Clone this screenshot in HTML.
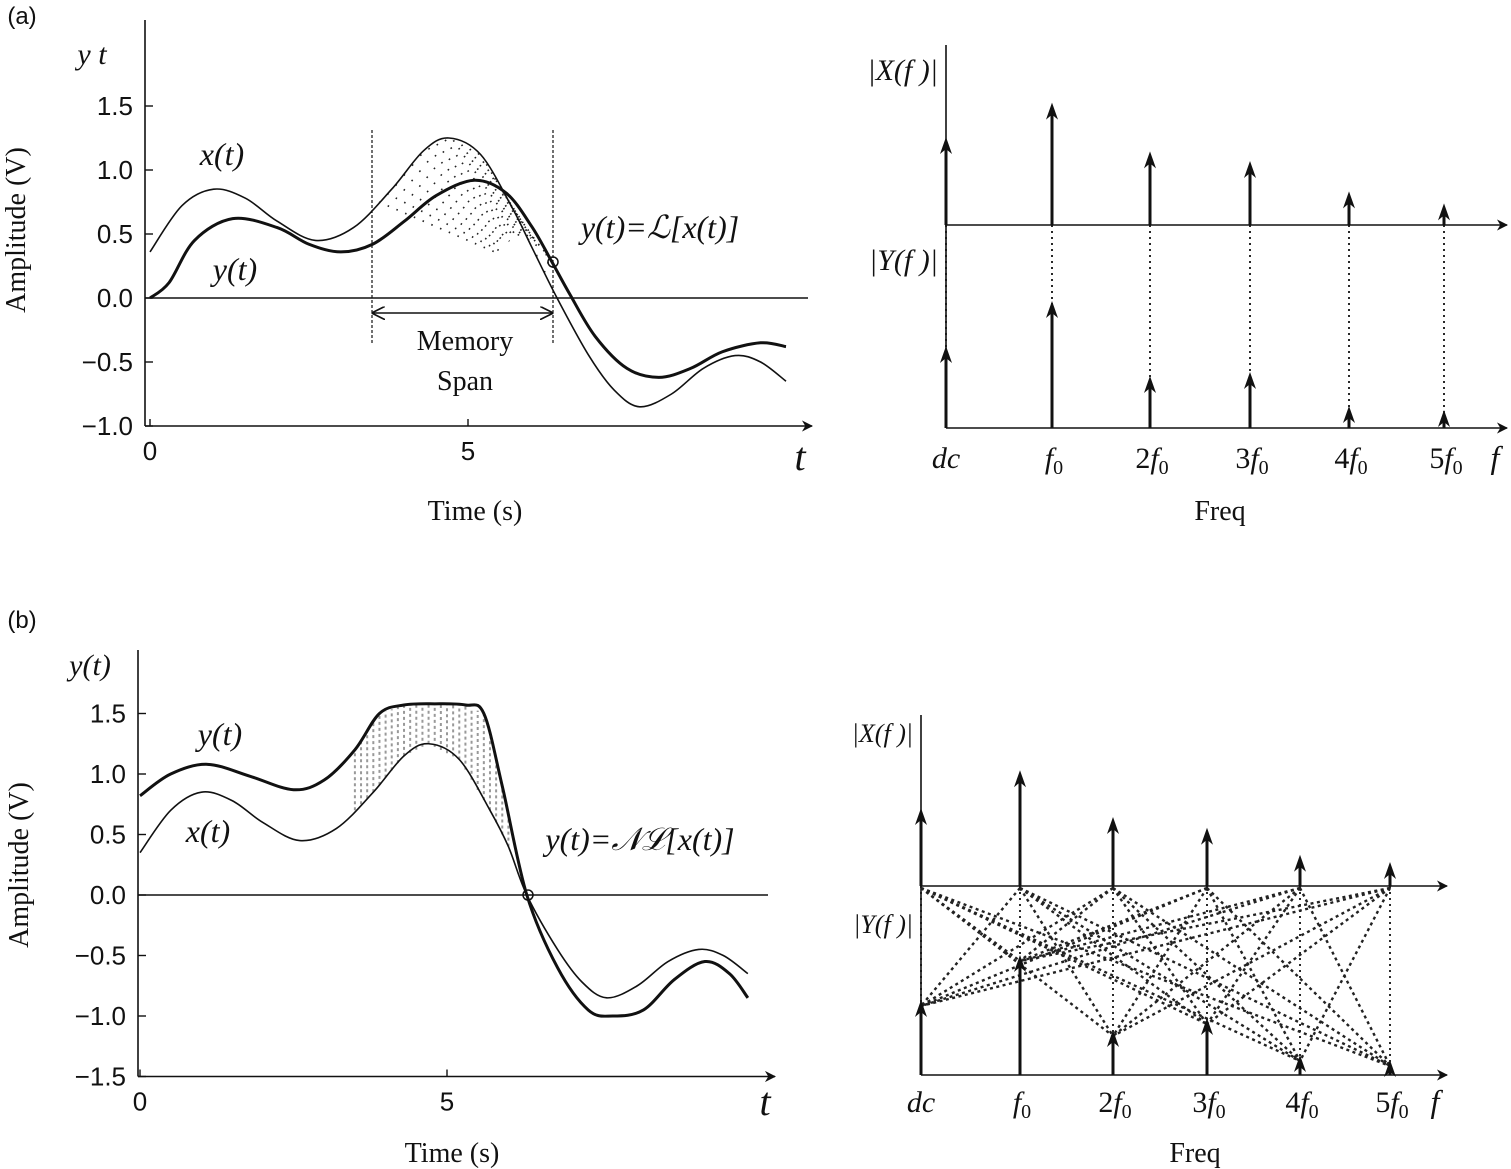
<!DOCTYPE html>
<html><head><meta charset="utf-8"><style>
html,body{margin:0;padding:0;background:#fff;}
svg{display:block;}
.sans{font-family:"Liberation Sans",sans-serif;}
.ser{font-family:"Liberation Serif",serif;}
</style></head><body>
<svg id="fig" width="1511" height="1169" viewBox="0 0 1511 1169" xmlns="http://www.w3.org/2000/svg">
<defs>
<marker id="ah" viewBox="0 0 10 10" refX="9" refY="5" markerWidth="7" markerHeight="7" orient="auto"><path d="M0,0 L10,5 L0,10 L3,5 Z" fill="#111"/></marker>
<marker id="ah2" viewBox="0 0 10 10" refX="9" refY="5" markerWidth="9" markerHeight="9" orient="auto-start-reverse"><path d="M0,0 L10,5 L0,10" fill="none" stroke="#111" stroke-width="1.2"/></marker>
</defs>
</svg>
<script>
// ---------- data ----------
const tXa = [0,0.5,1,1.5,2,2.6,3.2,3.8,4.3,4.7,5.2,5.7,6.0,6.4,6.9,7.3,7.7,8.2,8.7,9.2,9.6,10];
const xA  = [0.36,0.72,0.85,0.78,0.6,0.45,0.55,0.85,1.15,1.25,1.12,0.7,0.4,0,-0.45,-0.72,-0.85,-0.75,-0.55,-0.45,-0.5,-0.65];
const tYa = [0,0.3,0.7,1.3,2,2.5,3,3.5,4,4.5,5.1,5.6,6.0,6.3,6.6,7,7.5,8,8.5,9,9.6,10];
const yA  = [0,0.12,0.45,0.62,0.55,0.42,0.36,0.42,0.6,0.8,0.92,0.82,0.56,0.3,0.03,-0.3,-0.55,-0.62,-0.55,-0.42,-0.35,-0.38];
const tXb = [0,0.5,1,1.5,2,2.6,3.2,3.8,4.3,4.7,5.2,5.7,6.0,6.3,6.8,7.2,7.6,8.1,8.6,9.1,9.5,9.9];
const xB  = [0.35,0.7,0.85,0.78,0.6,0.45,0.55,0.85,1.15,1.25,1.12,0.7,0.4,0,-0.45,-0.72,-0.85,-0.75,-0.55,-0.45,-0.5,-0.65];
const tYb = [0,0.5,1.1,1.8,2.5,3,3.5,3.9,4.3,4.8,5.3,5.6,5.9,6.3,6.8,7.3,7.7,8.2,8.7,9.2,9.6,9.9];
const yB  = [0.82,1.0,1.08,0.98,0.87,0.95,1.2,1.5,1.57,1.58,1.57,1.5,0.9,0,-0.6,-0.95,-1.0,-0.95,-0.7,-0.55,-0.65,-0.85];
const yTicksA = [1.5,1.0,0.5,0.0,-0.5,-1.0];
const yTicksB = [1.5,1.0,0.5,0.0,-0.5,-1.0,-1.5];
const harmonics = ["dc","f0","2f0","3f0","4f0","5f0"];
const specXa = [1.1,1.53,0.92,0.8,0.42,0.27];
const specYa = [0.82,1.27,0.52,0.56,0.22,0.18];
const specXb = [1.3,1.93,1.15,0.97,0.52,0.4];
const specYb = [0.75,1.2,0.45,0.57,0.2,0.15];

const svg = document.getElementById('fig');
const NS = 'http://www.w3.org/2000/svg';
function mk(tag, attrs, parent){
  const e = document.createElementNS(NS, tag);
  for (const k in attrs) e.setAttribute(k, attrs[k]);
  (parent||svg).appendChild(e);
  return e;
}
function txt(x,y,s,cls,size,anchor,style){
  const e = mk('text',{x:x,y:y,'class':cls,'font-size':size,'text-anchor':anchor||'middle','fill':'#111'});
  if (style) e.setAttribute('font-style',style);
  e.textContent = s;
  return e;
}
function smooth(pts){
  let d = 'M'+pts[0][0]+','+pts[0][1];
  for (let i=0;i<pts.length-1;i++){
    const p0=pts[Math.max(i-1,0)],p1=pts[i],p2=pts[i+1],p3=pts[Math.min(i+2,pts.length-1)];
    const c1=[p1[0]+(p2[0]-p0[0])/6,p1[1]+(p2[1]-p0[1])/6];
    const c2=[p2[0]-(p3[0]-p1[0])/6,p2[1]-(p3[1]-p1[1])/6];
    d+=' C'+c1[0]+','+c1[1]+' '+c2[0]+','+c2[1]+' '+p2[0]+','+p2[1];
  }
  return d;
}
function interp(ts,vs,t){
  if (t<=ts[0]) return vs[0];
  for (let i=0;i<ts.length-1;i++) if (t<=ts[i+1]){const f=(t-ts[i])/(ts[i+1]-ts[i]);return vs[i]+f*(vs[i+1]-vs[i]);}
  return vs[vs.length-1];
}

let e;
e = txt(22,24,'(a)','sans',24); 


e = txt(22,628,'(b)','sans',24);



function timePanel(cfg){
  const sx = t => cfg.x0 + t*cfg.kx;
  const sy = v => cfg.y0 - v*cfg.ky;
  e = mk('line',{x1:cfg.ax,y1:cfg.axTop,x2:cfg.ax,y2:sy(cfg.yMin),stroke:'#111','stroke-width':1.6});
  
  
  e = mk('line',{x1:cfg.ax,y1:sy(cfg.yMin),x2:cfg.axRight,y2:sy(cfg.yMin),stroke:'#111','stroke-width':1.6,'marker-end':'url(#ah)'});
  
  
  e = mk('line',{x1:cfg.ax,y1:sy(0),x2:cfg.zeroRight,y2:sy(0),stroke:'#111','stroke-width':1.4});
  
  
  cfg.ticks.forEach(v=>{
    e = mk('line',{x1:cfg.ax,y1:sy(v),x2:cfg.ax+8,y2:sy(v),stroke:'#111','stroke-width':1.4});
    
    
    const lab = (v<0?'\u2212':'')+Math.abs(v).toFixed(1);
    e = txt(cfg.ax-12,sy(v)+9,lab,'sans',26,'end');
    
    
  });
  [0,5].forEach(t=>{
    e = mk('line',{x1:sx(t),y1:sy(cfg.yMin),x2:sx(t),y2:sy(cfg.yMin)-7,stroke:'#111','stroke-width':1.4});
    
    
    e = txt(sx(t),sy(cfg.yMin)+34,String(t),'sans',26);
    
    
  });
  cfg.shade(sx,sy);
  const px = cfg.tx.map((t,i)=>[sx(t),sy(cfg.xv[i])]);
  const py = cfg.ty.map((t,i)=>[sx(t),sy(cfg.yv[i])]);
  e = mk('path',{d:smooth(px),fill:'none',stroke:'#111','stroke-width':1.6});
  
  
  e = mk('path',{d:smooth(py),fill:'none',stroke:'#111','stroke-width':3});
  
  
  return {sx,sy};
}

const A = timePanel({p:'a',x0:150,kx:63.6,y0:298,ky:128,ax:145,axTop:20,axRight:812,zeroRight:808,yMin:-1.0,
  ticks:yTicksA,tx:tXa,xv:xA,ty:tYa,yv:yA,
  shade:(sx,sy)=>{
    const cx=553, cy=262;
    for (let t=3.6;t<=6.2;t+=0.13){
      const x1=sx(t),y1=sy(interp(tXa,xA,t));
      const tt=t+(6.3-t)*0.35, x2=sx(tt), y2=sy(interp(tYa,yA,tt))+ (6.3-t)*18;
      e = mk('line',{x1:x1,y1:y1,x2:(x2+cx)/2,y2:Math.min((y2+cy)/2,cy),stroke:'#222','stroke-width':1.7,'stroke-dasharray':'1.5 8'});
      
      
    }
  }});
e = mk('line',{x1:372,y1:130,x2:372,y2:345,stroke:'#111','stroke-width':1.2,'stroke-dasharray':'3 2'});


e = mk('line',{x1:553,y1:130,x2:553,y2:345,stroke:'#111','stroke-width':1.2,'stroke-dasharray':'3 2'});


e = mk('line',{x1:373,y1:313,x2:552,y2:313,stroke:'#111','stroke-width':1.5,'marker-start':'url(#ah2)','marker-end':'url(#ah2)'});


e = mk('circle',{cx:553,cy:262,r:5,fill:'none',stroke:'#111','stroke-width':1.5});


e = txt(465,350,'Memory','ser',28);  
e = txt(465,390,'Span','ser',28);  
e = txt(222,165,'x(t)','ser',32,'middle','italic');  
e = txt(235,280,'y(t)','ser',32,'middle','italic');  
e = txt(660,238,'y(t)=\u2112[x(t)]','ser',32,'middle','italic');  
e = txt(92,64,'y  t','ser',30,'middle','italic');  
e = txt(800,470,'t','ser',40,'middle','italic');  
e = txt(475,520,'Time (s)','ser',28);  
e = txt(25,230,'Amplitude (V)','ser',28); e.setAttribute('transform','rotate(-90 25 230)');  

const B = timePanel({p:'b',x0:140,kx:61.4,y0:895,ky:121,ax:138,axTop:650,axRight:775,zeroRight:768,yMin:-1.5,
  ticks:yTicksB,tx:tXb,xv:xB,ty:tYb,yv:yB,
  shade:(sx,sy)=>{
    for (let t=3.5;t<=6.0;t+=0.1){
      const x=sx(t);
      e = mk('line',{x1:x,y1:sy(interp(tXb,xB,t)),x2:x,y2:sy(interp(tYb,yB,t)),stroke:'#999','stroke-width':2,'stroke-dasharray':'3 3'});
      
      
    }
  }});
e = mk('circle',{cx:528,cy:895,r:5,fill:'none',stroke:'#111','stroke-width':1.5});


e = txt(220,745,'y(t)','ser',32,'middle','italic');  
e = txt(208,842,'x(t)','ser',32,'middle','italic');  
e = txt(640,850,'y(t)=\uD835\uDCA9\u2112[x(t)]','ser',32,'middle','italic');  
e = txt(90,675,'y(t)','ser',30,'middle','italic');  
e = txt(765,1115,'t','ser',40,'middle','italic');  
e = txt(452,1162,'Time (s)','ser',28);  
e = txt(28,865,'Amplitude (V)','ser',28); e.setAttribute('transform','rotate(-90 28 865)');  

function arrow(x,yb,yt,p,w){
  e = mk('line',{x1:x,y1:yb,x2:x,y2:yt+8,stroke:'#111','stroke-width':w||3});
  
  
  e = mk('path',{d:'M'+x+','+yt+' L'+(x-6)+','+(yt+17)+' L'+x+','+(yt+12)+' L'+(x+6)+','+(yt+17)+' Z',fill:'#111'});
  
  
}
function hLabel(x,y,h,p){
  const g = mk('text',{x:x,y:y,'class':'ser','font-size':30,'text-anchor':'middle','font-style':'italic',fill:'#111'});
  
  
  if (h==='dc'){ g.textContent='dc'; return; }
  const n=h.replace('f0','');
  if (n){ const s=mk('tspan',{'font-style':'normal'},g); s.textContent=n; }
  const f=mk('tspan',{},g); f.textContent='f';
  const s0=mk('tspan',{'font-size':20,'font-style':'normal',dy:6}, g); s0.textContent='0';
}
function specPanel(c){
  const sxf = i => c.xs0[i];
  const sX = v => c.xBase - v*c.kX;
  const sY = v => c.yBase - v*c.kY;
  e = mk('line',{x1:c.x0,y1:c.top,x2:c.x0,y2:c.yBase,stroke:'#111','stroke-width':1.6});
  
  
  e = mk('line',{x1:c.x0,y1:c.xBase,x2:c.right,y2:c.xBase,stroke:'#111','stroke-width':1.6,'marker-end':'url(#ah)'});
  
  
  e = mk('line',{x1:c.x0,y1:c.yBase,x2:c.right,y2:c.yBase,stroke:'#111','stroke-width':1.6,'marker-end':'url(#ah)'});
  
  
  harmonics.forEach((h,i)=>{
    const x=sxf(i);
    e = mk('line',{x1:x,y1:c.xBase,x2:x,y2:c.yBase,stroke:'#111','stroke-width':1.8,'stroke-dasharray':'2 4'});
    
    
  });
  if (c.mix){
    harmonics.forEach((h,i)=>{
      harmonics.forEach((h2,j)=>{
        if (i===j) return;
        e = mk('line',{x1:sxf(i),y1:c.xBase+2,x2:sxf(j),y2:sY(c.ys[j])+6,stroke:'#222','stroke-width':2.4,'stroke-dasharray':'3 3.5'});
        
        
      });
    });
  }
  harmonics.forEach((h,i)=>{
    arrow(sxf(i),c.xBase,sX(c.xs[i]),c.p+'-x');
    arrow(sxf(i),c.yBase,sY(c.ys[i]),c.p+'-y');
    hLabel(sxf(i)+(i===0?0:2),c.labY,h,c.p);
  });
  e = txt(c.right-12,c.labY,'f','ser',32,'middle','italic');  
  e = txt(c.freqX,c.freqY,'Freq','ser',28);  
  e = txt(c.x0-8,c.xLabY,'|X(f )|','ser',c.fs,'end','italic');  
  e = txt(c.x0-8,c.yLabY,'|Y(f )|','ser',c.fs,'end','italic');  
}
specPanel({p:'a',x0:946,xs0:[946,1052,1150,1250,1349,1444],top:45,xBase:225,yBase:428,right:1507,kX:80,kY:100,xs:specXa,ys:specYa,
  labY:468,freqX:1220,freqY:520,xLabY:80,yLabY:270,fs:30,mix:false});
specPanel({p:'b',x0:921,xs0:[921,1020,1113,1207,1300,1390],top:715,xBase:886,yBase:1075,right:1447,kX:60,kY:100,xs:specXb,ys:specYb,
  labY:1112,freqX:1195,freqY:1162,xLabY:742,yLabY:933,fs:26,mix:true});
</script>
</body></html>
